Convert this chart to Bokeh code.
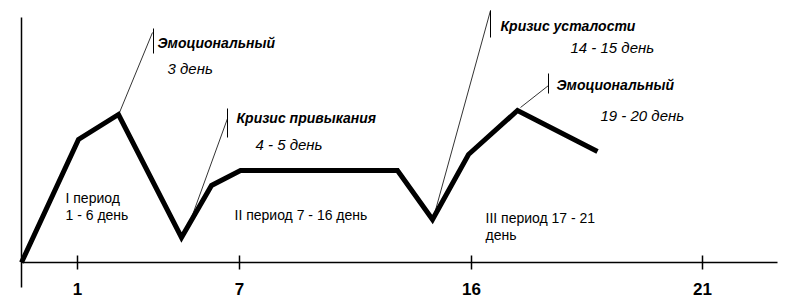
from bokeh.plotting import figure
from bokeh.models import Range1d, LinearAxis, FixedTicker
from bokeh.core.properties import value
from bokeh.embed import file_html
from bokeh.resources import INLINE

# schematic curve (x: position along time axis, y: level above axis)
curve_x = [0, 57, 97, 160, 190, 219, 376, 411, 447, 496, 576]
curve_y = [0, 123, 148, 25, 77, 92, 92, 43, 108, 152, 111]

# axis ticks
tick_pos = [56, 218, 450, 681]
tick_labels = ["1", "7", "16", "21"]

# leader lines: from curve point to label mark
lead_x0 = [98, 165, 412, 499]
lead_y0 = [150, 31, 45, 155]
lead_x1 = [131, 206, 469, 527]
lead_y1 = [230, 144, 252, 177]
# vertical marks at the label end
mark_x = [132, 206, 469, 527]
mark_y0 = [209, 125, 225, 169]
mark_y1 = [234, 154, 252, 189]

# bold-italic titles
title_x = [136, 215, 479, 535]
title_y = [220, 145, 237, 178]
title_text = ["Эмоциональный", "Кризис привыкания", "Кризис усталости", "Эмоциональный"]

# italic day ranges
day_x = [146, 234, 549, 579]
day_y = [194, 118, 215, 147]
day_text = ["3 день", "4 - 5 день", "14 - 15 день", "19 - 20 день"]

# period labels
per_x = [44, 44, 213, 464, 464]
per_y = [65, 48, 48, 45, 28]
per_text = ["I период", "1 - 6 день", "II период 7 - 16 день", "III период 17 - 21", "день"]

FONT = value("Liberation Sans")

p = figure(width=812, height=303, x_range=Range1d(-21, 791), y_range=Range1d(-41, 262),
           x_axis_type=None, y_axis_type=None, toolbar_location=None,
           output_backend="svg", min_border=0)
p.outline_line_color = None
p.xgrid.visible = False
p.ygrid.visible = False
p.background_fill_color = "white"

xa = LinearAxis(fixed_location=0, ticker=FixedTicker(ticks=tick_pos),
                major_label_overrides={t: l for t, l in zip(tick_pos, tick_labels)})
xa.bounds = (0, 756)
xa.axis_line_color = "black"
xa.axis_line_width = 1.5
xa.major_tick_in = 7
xa.major_tick_out = 7
xa.major_tick_line_width = 1.5
xa.minor_tick_line_color = None
xa.major_label_text_font = "Liberation Sans"
xa.major_label_text_font_style = "bold"
xa.major_label_text_font_size = "17px"
xa.major_label_text_color = "black"
xa.major_label_standoff = 13
p.add_layout(xa, "below")

ya = LinearAxis(fixed_location=0, ticker=FixedTicker(ticks=[]))
ya.bounds = (-25, 245)
ya.axis_line_color = "black"
ya.axis_line_width = 1.5
ya.major_tick_line_color = None
ya.minor_tick_line_color = None
ya.major_label_text_font_size = "0px"
p.add_layout(ya, "left")

p.segment(lead_x0, lead_y0, lead_x1, lead_y1, line_color="black", line_width=0.8)
p.segment(mark_x, mark_y0, mark_x, mark_y1, line_color="black", line_width=1)

p.line(curve_x, curve_y, line_color="black", line_width=5, line_join="miter")

p.text(title_x, title_y, text=title_text, text_font=FONT, text_font_style="bold italic",
       text_font_size="14px", text_baseline="middle", text_align="left", text_color="black")
p.text(day_x, day_y, text=day_text, text_font=FONT, text_font_style="italic",
       text_font_size="15px", text_baseline="middle", text_align="left", text_color="black")
p.text(per_x, per_y, text=per_text, text_font=FONT, text_font_style="normal",
       text_font_size="14px", text_baseline="middle", text_align="left", text_color="black")

open("out.html", "w").write(file_html(p, INLINE))
